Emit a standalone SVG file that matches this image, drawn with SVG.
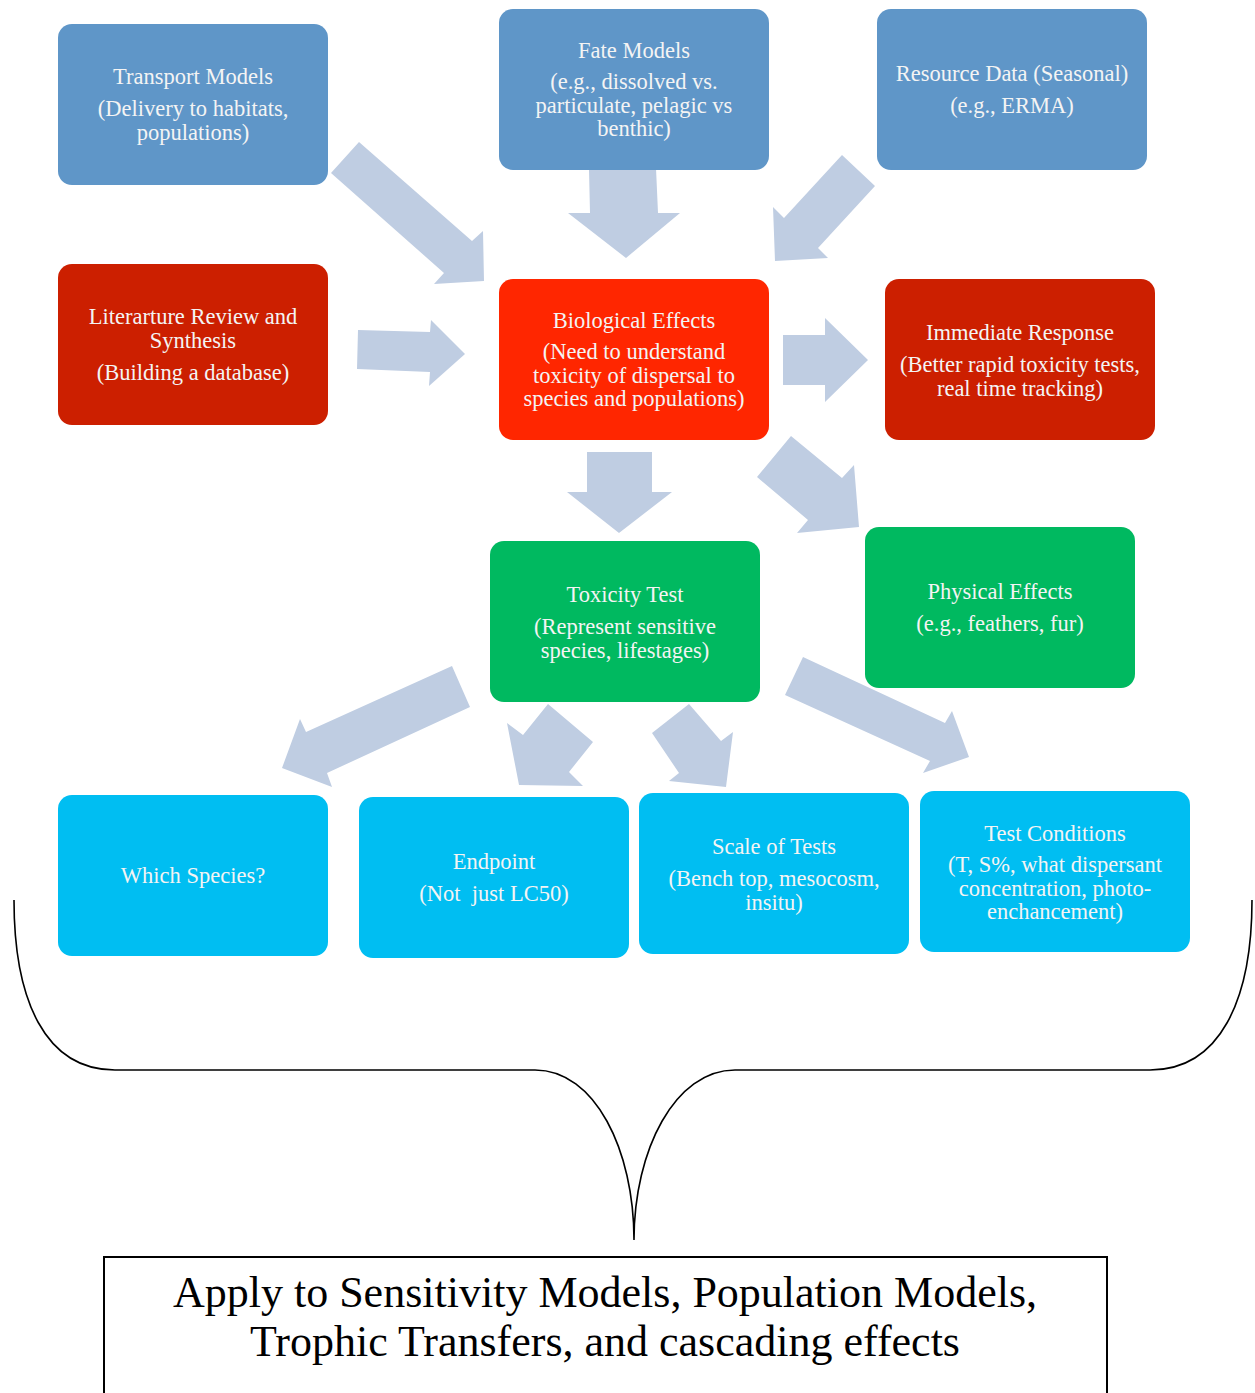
<svg xmlns="http://www.w3.org/2000/svg" width="1255" height="1393" viewBox="0 0 1255 1393">
<style>
.box{stroke:none}
.blue{fill:#5f96c8}
.dred{fill:#cc1f00}
.bred{fill:#ff2600}
.green{fill:#00b960}
.cyan{fill:#00bef2}
.t{font-family:"Liberation Serif","Times New Roman",serif;font-size:22.5px;fill:#f4f4f4;text-anchor:middle}
.arr{fill:#bfcde2}
.big{font-family:"Liberation Serif","Times New Roman",serif;font-size:44px;fill:#000;text-anchor:middle}
</style>
<rect width="1255" height="1393" fill="#fff"/>
<g id="connectors">
<polygon class="arr" points="359,142 472,241 483,231 484,281 434,284 444,273 331,173"/>
<polygon class="arr" points="589,169 656,168 658,213 680,213 626,258 568,213 590,213"/>
<polygon class="arr" points="842,155 875,186 818,248 828,258 775,261 773,207 784,218"/>
<polygon class="arr" points="358,330 430,332 431,320 465,354 429,386 430,372 357,369"/>
<polygon class="arr" points="783,335 825,335 825,318 868,360 825,402 825,385 783,385"/>
<polygon class="arr" points="587,452 652,452 652,492 672,492 619,533 567,492 587,492"/>
<polygon class="arr" points="791,436 842,478 854,465 859,527 797,533 808,520 757,477"/>
<polygon class="arr" points="452,666 470,707 327,773 332,787 282,768 300,719 306,732"/>
<polygon class="arr" points="548,704 593,742 569,772 583,786 519,785 507,723 523,735"/>
<polygon class="arr" points="689,704 721,741 733,732 726,787 669,781 679,773 652,733"/>
<polygon class="arr" points="803,657 945,723 952,711 969,757 923,773 930,761 785,695"/>
<path d="M14,900 C14,1000 45,1070 115,1070 L535,1070 C595,1070 634,1150 634,1240 C634,1150 675,1070 735,1070 L1150,1070 C1220,1070 1252,1000 1252,900" fill="none" stroke="#000" stroke-width="1.6"/>
</g>
<g id="transport">
<rect class="box blue" x="58" y="24" width="270" height="161" rx="14"/>
<text class="t" x="193" y="84">Transport Models</text>
<text class="t" x="193" y="116">(Delivery to habitats,</text>
<text class="t" x="193" y="140">populations)</text>
</g>
<g id="fate">
<rect class="box blue" x="499" y="9" width="270" height="161" rx="14"/>
<text class="t" x="634" y="58">Fate Models</text>
<text class="t" x="634" y="89">(e.g., dissolved vs.</text>
<text class="t" x="634" y="113">particulate, pelagic vs</text>
<text class="t" x="634" y="136">benthic)</text>
</g>
<g id="resource">
<rect class="box blue" x="877" y="9" width="270" height="161" rx="14"/>
<text class="t" x="1012" y="81">Resource Data (Seasonal)</text>
<text class="t" x="1012" y="113">(e.g., ERMA)</text>
</g>
<g id="literature">
<rect class="box dred" x="58" y="264" width="270" height="161" rx="14"/>
<text class="t" x="193" y="324">Literarture Review and</text>
<text class="t" x="193" y="348">Synthesis</text>
<text class="t" x="193" y="380">(Building a database)</text>
</g>
<g id="biological">
<rect class="box bred" x="499" y="279" width="270" height="161" rx="14"/>
<text class="t" x="634" y="328">Biological Effects</text>
<text class="t" x="634" y="359">(Need to understand</text>
<text class="t" x="634" y="383">toxicity of dispersal to</text>
<text class="t" x="634" y="406">species and populations)</text>
</g>
<g id="immediate">
<rect class="box dred" x="885" y="279" width="270" height="161" rx="14"/>
<text class="t" x="1020" y="340">Immediate Response</text>
<text class="t" x="1020" y="372">(Better rapid toxicity tests,</text>
<text class="t" x="1020" y="396">real time tracking)</text>
</g>
<g id="toxicity">
<rect class="box green" x="490" y="541" width="270" height="161" rx="14"/>
<text class="t" x="625" y="602">Toxicity Test</text>
<text class="t" x="625" y="634">(Represent sensitive</text>
<text class="t" x="625" y="658">species, lifestages)</text>
</g>
<g id="physical">
<rect class="box green" x="865" y="527" width="270" height="161" rx="14"/>
<text class="t" x="1000" y="599">Physical Effects</text>
<text class="t" x="1000" y="631">(e.g., feathers, fur)</text>
</g>
<g id="species">
<rect class="box cyan" x="58" y="795" width="270" height="161" rx="14"/>
<text class="t" x="193" y="883">Which Species?</text>
</g>
<g id="endpoint">
<rect class="box cyan" x="359" y="797" width="270" height="161" rx="14"/>
<text class="t" x="494" y="869">Endpoint</text>
<text class="t" x="494" y="901" xml:space="preserve">(Not  just LC50)</text>
</g>
<g id="scale">
<rect class="box cyan" x="639" y="793" width="270" height="161" rx="14"/>
<text class="t" x="774" y="854">Scale of Tests</text>
<text class="t" x="774" y="886">(Bench top, mesocosm,</text>
<text class="t" x="774" y="910">insitu)</text>
</g>
<g id="conditions">
<rect class="box cyan" x="920" y="791" width="270" height="161" rx="14"/>
<text class="t" x="1055" y="841">Test Conditions</text>
<text class="t" x="1055" y="872">(T, S%, what dispersant</text>
<text class="t" x="1055" y="896">concentration, photo-</text>
<text class="t" x="1055" y="919">enchancement)</text>
</g>
<g id="apply">
<rect x="104" y="1257" width="1003" height="160" fill="none" stroke="#000" stroke-width="2"/>
<text class="big" x="605" y="1307">Apply to Sensitivity Models, Population Models,</text>
<text class="big" x="605" y="1356">Trophic Transfers, and cascading effects</text>
</g>
</svg>
